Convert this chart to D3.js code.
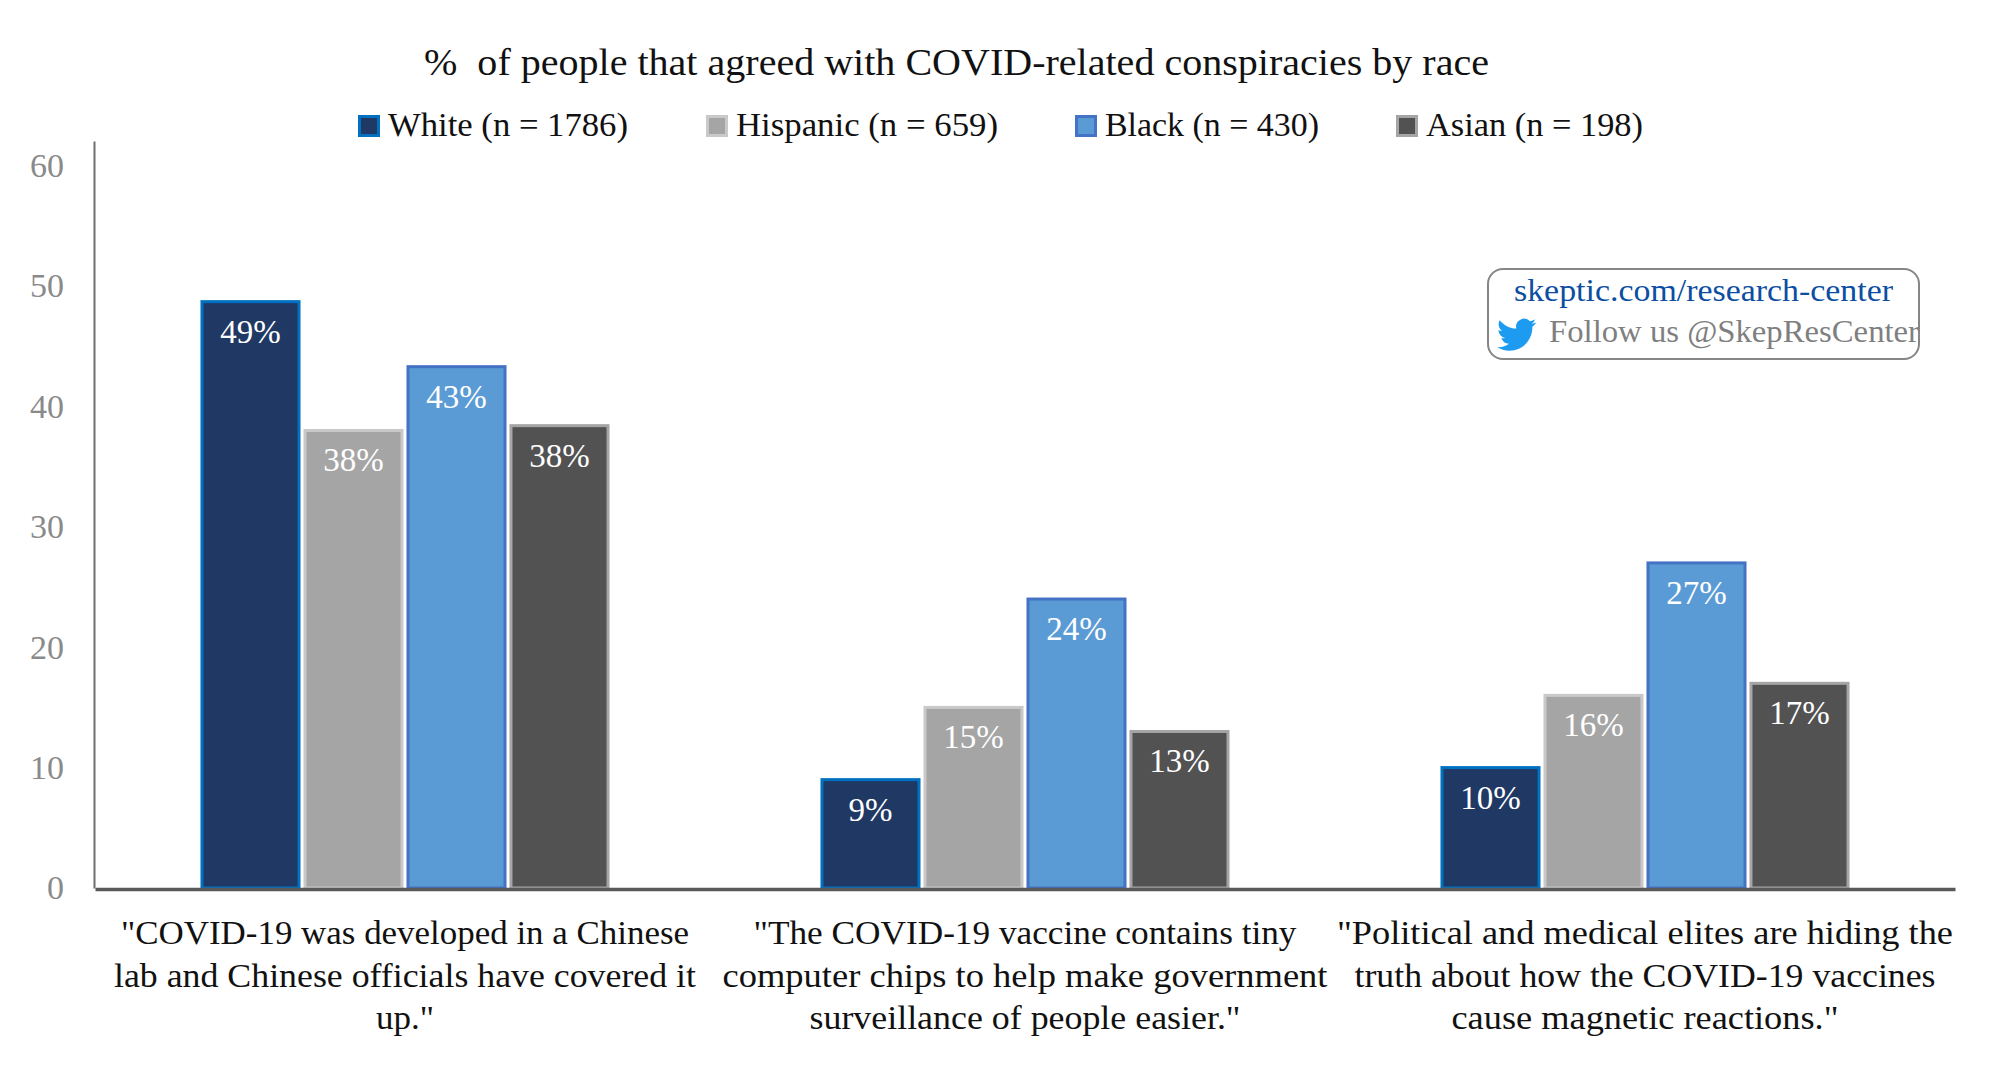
<!DOCTYPE html>
<html>
<head>
<meta charset="utf-8">
<script src="https://d3js.org/d3.v7.min.js"></script>
<style>
body { margin: 0; padding: 0; background: #fff; }
svg { display: block; }
text { font-family: "Liberation Serif", serif; }
.y.axis text { fill: #8a8a8a; font-size: 34px; }
.y.axis path { stroke: #6f6f6f; stroke-width: 2; }
.x.axis path { stroke: #595959; stroke-width: 3.5; }
</style>
</head>
<body>
<script>
// data
var questions = ["q1", "q2", "q3"];
var questionLines = [
    ["\"COVID-19 was developed in a Chinese", "lab and Chinese officials have covered it", "up.\""],
    ["\"The COVID-19 vaccine contains tiny", "computer chips to help make government", "surveillance of people easier.\""],
    ["\"Political and medical elites are hiding the", "truth about how the COVID-19 vaccines", "cause magnetic reactions.\""]
];
var races = ["White", "Hispanic", "Black", "Asian"];
var raceLabels = ["White (n = 1786)", "Hispanic (n = 659)", "Black (n = 430)", "Asian (n = 198)"];
var white = [48.7, 9, 10];
var hispanic = [38, 15, 16];
var black = [43.3, 24, 27];
var asian = [38.4, 13, 17];
var shownLabels = [
    ["49%", "9%", "10%"],
    ["38%", "15%", "16%"],
    ["43%", "24%", "27%"],
    ["38%", "13%", "17%"]
];
var yTicks = [0, 10, 20, 30, 40, 50, 60];

var seriesValues = [white, hispanic, black, asian];
var fills = ["#1f3864", "#a5a5a5", "#5b9bd5", "#525252"];
var strokes = ["#0070c0", "#c9c9c9", "#4472c4", "#a5a5a5"];

// text widths measured on the reference, the fonts differ so they get squeezed to fit
var lineWidths = [[568, 582, 58], [543, 605, 431], [616, 581, 387]];
var legendX = [358, 706, 1075, 1396];
var legendWidths = [240, 262, 214, 217];

var left = 95, right = 1955, top_ = 141, base = 888;

var x0 = d3.scaleBand().domain(questions).range([left, right]);
var x1 = d3.scaleBand().domain(races).range([0, x0.bandwidth()])
    .paddingInner(0.058).paddingOuter(1.0387);
var y = d3.scaleLinear().domain([0, 60]).range([base, 165.6]);

var svg = d3.select("body").append("svg")
    .attr("width", 2000)
    .attr("height", 1066);

function fitted(sel, w) {
    return sel.attr("textLength", w).attr("lengthAdjust", "spacingAndGlyphs");
}

// title
fitted(svg.append("text")
    .attr("x", 424)
    .attr("y", 75)
    .style("font-size", "38px")
    .attr("fill", "#111")
    .attr("xml:space", "preserve")
    .text("%  of people that agreed with COVID-related conspiracies by race"), 1065);

// legend
var legend = svg.selectAll(".legend")
    .data(races)
    .enter().append("g")
    .attr("class", "legend")
    .attr("transform", function (d, i) { return "translate(" + legendX[i] + ",0)"; });

legend.append("rect")
    .attr("x", 1.5)
    .attr("y", 116.5)
    .attr("width", 19)
    .attr("height", 19)
    .attr("fill", function (d, i) { return fills[i]; })
    .attr("stroke", function (d, i) { return strokes[i]; })
    .attr("stroke-width", 3);

legend.each(function (d, i) {
    fitted(d3.select(this).append("text")
        .attr("x", 30)
        .attr("y", 136)
        .style("font-size", "33px")
        .attr("fill", "#111")
        .text(raceLabels[i]), legendWidths[i]);
});

// bars
var groups = svg.selectAll(".race")
    .data(races)
    .enter().append("g")
    .attr("class", "race");

groups.each(function (race, r) {
    var g = d3.select(this);
    g.selectAll("rect")
        .data(seriesValues[r])
        .enter().append("rect")
        .attr("x", function (d, i) { return x0(questions[i]) + x1(race); })
        .attr("y", function (d) { return y(d); })
        .attr("width", x1.bandwidth())
        .attr("height", function (d) { return y(0) - y(d); })
        .attr("fill", fills[r])
        .attr("stroke", strokes[r])
        .attr("stroke-width", 3);
    g.selectAll("text")
        .data(seriesValues[r])
        .enter().append("text")
        .attr("x", function (d, i) { return x0(questions[i]) + x1(race) + x1.bandwidth() / 2; })
        .attr("y", function (d) { return y(d) + 41; })
        .attr("text-anchor", "middle")
        .attr("fill", "#fff")
        .style("font-size", "33px")
        .text(function (d, i) { return shownLabels[r][i]; });
});

// axes
var yAxis = d3.axisLeft(y)
    .tickValues(yTicks)
    .tickSize(0)
    .tickPadding(30);

var yAxisScale = y.copy().domain([0, y.invert(top_)]).range([base, top_]);
svg.append("g")
    .attr("class", "y axis")
    .attr("transform", "translate(" + (left - 1) + ",0)")
    .call(yAxis.scale(yAxisScale));

svg.append("g")
    .attr("class", "x axis")
    .attr("transform", "translate(0," + (base + 1) + ")")
    .call(d3.axisBottom(x0).tickSize(0).tickFormat(""));

// question labels
var labels = svg.selectAll(".question")
    .data(questions)
    .enter().append("g")
    .attr("class", "question");

labels.each(function (q, i) {
    var g = d3.select(this);
    questionLines[i].forEach(function (line, j) {
        fitted(g.append("text")
            .attr("x", x0(q) + x0.bandwidth() / 2)
            .attr("y", 944 + j * 42.5)
            .attr("text-anchor", "middle")
            .style("font-size", "33px")
            .attr("fill", "#111")
            .text(line), lineWidths[i][j]);
    });
});

// link box
svg.append("rect")
    .attr("x", 1488)
    .attr("y", 269)
    .attr("width", 431)
    .attr("height", 90)
    .attr("rx", 15)
    .attr("fill", "#fff")
    .attr("stroke", "#868686")
    .attr("stroke-width", 2);

fitted(svg.append("text")
    .attr("x", 1514)
    .attr("y", 301)
    .style("font-size", "32px")
    .attr("fill", "#0b4ea2")
    .text("skeptic.com/research-center"), 379);

fitted(svg.append("text")
    .attr("x", 1549)
    .attr("y", 342)
    .style("font-size", "32px")
    .attr("fill", "#7f7f7f")
    .text("Follow us @SkepResCenter"), 370);

svg.append("path")
    .attr("transform", "translate(1497,315) scale(1.64)")
    .attr("fill", "#1d9bf0")
    .attr("d", "M23.953 4.57a10 10 0 01-2.825.775 4.958 4.958 0 002.163-2.723c-.951.555-2.005.959-3.127 1.184a4.92 4.92 0 00-8.384 4.482C7.69 8.095 4.067 6.13 1.64 3.162a4.822 4.822 0 00-.666 2.475c0 1.71.87 3.213 2.188 4.096a4.904 4.904 0 01-2.228-.616v.06a4.923 4.923 0 003.946 4.827 4.996 4.996 0 01-2.212.085 4.936 4.936 0 004.604 3.417 9.867 9.867 0 01-6.102 2.105c-.39 0-.779-.023-1.17-.067a13.995 13.995 0 007.557 2.209c9.053 0 13.998-7.496 13.998-13.985 0-.21 0-.42-.015-.63A9.935 9.935 0 0024 4.59z");
</script>
</body>
</html>
